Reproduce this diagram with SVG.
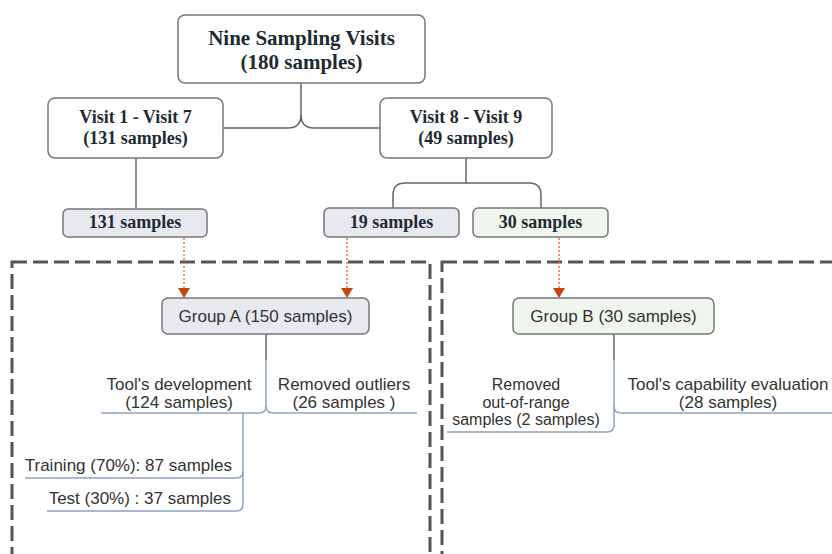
<svg xmlns="http://www.w3.org/2000/svg" width="832" height="554" viewBox="0 0 832 554">
<style>
.box{stroke:#777;stroke-width:1.5}
.w{fill:#fff}
.g{fill:#e8e8ef}
.gr{fill:#eef6ee}
.st{font-family:"Liberation Serif","Times New Roman",serif;font-weight:bold;fill:#1e2b33;text-anchor:middle}
.ss{font-family:"Liberation Sans",Arial,sans-serif;fill:#333;text-anchor:middle;font-size:17px}
.conn{fill:none;stroke:#666;stroke-width:1.5}
.blue{fill:none;stroke:#8ea3c4;stroke-width:1.5}
.dot{fill:none;stroke:#f07a3a;stroke-width:1.5;stroke-dasharray:2 2}
.dash{fill:none;stroke:#555;stroke-width:3;stroke-dasharray:15 6}
.head{fill:#c4460c}
</style>

<g id="groupA-frame"><rect x="12" y="262" width="418" height="320" class="dash"/></g>
<g id="groupB-frame"><rect x="442" y="262" width="420" height="320" class="dash"/></g>

<g id="connectors">
<path class="conn" d="M301,83 V115 Q301,128 288,128 H223"/>
<path class="conn" d="M301,115 Q301,128 314,128 H380"/>
<path class="conn" d="M136,158 V209"/>
<path class="conn" d="M466,158 V183"/>
<path class="conn" d="M393,208 V195 Q393,183 405,183 H529 Q541,183 541,195 V208"/>
<path class="dot" d="M184,238 V288"/>
<path class="dot" d="M347,238 V288"/>
<path class="dot" d="M559,238 V288"/>
<path class="head" d="M178,288 L190,288 L184,298 Z"/>
<path class="head" d="M341,288 L353,288 L347,298 Z"/>
<path class="head" d="M553,288 L565,288 L559,298 Z"/>
<path class="conn" d="M266,334 V360"/>
<path class="blue" d="M266,360 V406 Q266,413 259,413 H101"/>
<path class="blue" d="M266,406 Q266,413 273,413 H417"/>
<path class="blue" d="M243,413 V471 Q243,478 236,478 H25"/>
<path class="blue" d="M243,471 V504 Q243,511 236,511 H47"/>
<path class="conn" d="M614,334 V360"/>
<path class="blue" d="M614,360 V425 Q614,432 607,432 H447"/>
<path class="blue" d="M614,406 Q614,413 621,413 H832"/>
</g>

<g id="nine-visits">
<rect x="178" y="15" width="247" height="68" rx="7" class="box w"/>
<text x="301.5" y="45" class="st" font-size="21">Nine Sampling Visits</text>
<text x="301.5" y="69" class="st" font-size="21">(180 samples)</text>
</g>
<g id="visit1-7">
<rect x="48" y="98" width="175" height="60" rx="7" class="box w"/>
<text x="135.5" y="123" class="st" font-size="18">Visit 1 - Visit 7</text>
<text x="135.5" y="144" class="st" font-size="18">(131 samples)</text>
</g>
<g id="visit8-9">
<rect x="380" y="98" width="172" height="60" rx="7" class="box w"/>
<text x="466" y="123" class="st" font-size="18">Visit 8 - Visit 9</text>
<text x="466" y="144" class="st" font-size="18">(49 samples)</text>
</g>
<g id="s131">
<rect x="63" y="209" width="144" height="28" rx="5" class="box g"/>
<text x="135" y="228" class="st" font-size="18">131 samples</text>
</g>
<g id="s19">
<rect x="324" y="208" width="135" height="29" rx="5" class="box g"/>
<text x="391.5" y="228" class="st" font-size="18">19 samples</text>
</g>
<g id="s30">
<rect x="473" y="208" width="135" height="29" rx="5" class="box gr"/>
<text x="540.5" y="228" class="st" font-size="18">30 samples</text>
</g>
<g id="groupA">
<rect x="162" y="298" width="207" height="36" rx="6" class="box g"/>
<text x="265.5" y="322" class="ss">Group A (150 samples)</text>
</g>
<g id="groupB">
<rect x="513" y="298" width="201" height="36" rx="6" class="box gr"/>
<text x="613.5" y="322" class="ss">Group B (30 samples)</text>
</g>
<g id="tool-dev">
<text x="179" y="390" class="ss">Tool's development</text>
<text x="179" y="408" class="ss">(124 samples)</text>
</g>
<g id="removed-outliers">
<text x="344" y="390" class="ss">Removed outliers</text>
<text x="344" y="408" class="ss">(26 samples )</text>
</g>
<g id="training">
<text x="232" y="471" class="ss" style="text-anchor:end">Training (70%): 87 samples</text>
</g>
<g id="test">
<text x="231" y="504" class="ss" style="text-anchor:end">Test (30%) : 37 samples</text>
</g>
<g id="removed-range">
<text x="526" y="390" class="ss" font-size="16" style="font-size:16px">Removed</text>
<text x="526" y="407.5" class="ss" style="font-size:16px">out-of-range</text>
<text x="526" y="425" class="ss" style="font-size:16px">samples (2 samples)</text>
</g>
<g id="tool-cap">
<text x="728" y="390" class="ss">Tool's capability evaluation</text>
<text x="728" y="408" class="ss">(28 samples)</text>
</g>
</svg>
